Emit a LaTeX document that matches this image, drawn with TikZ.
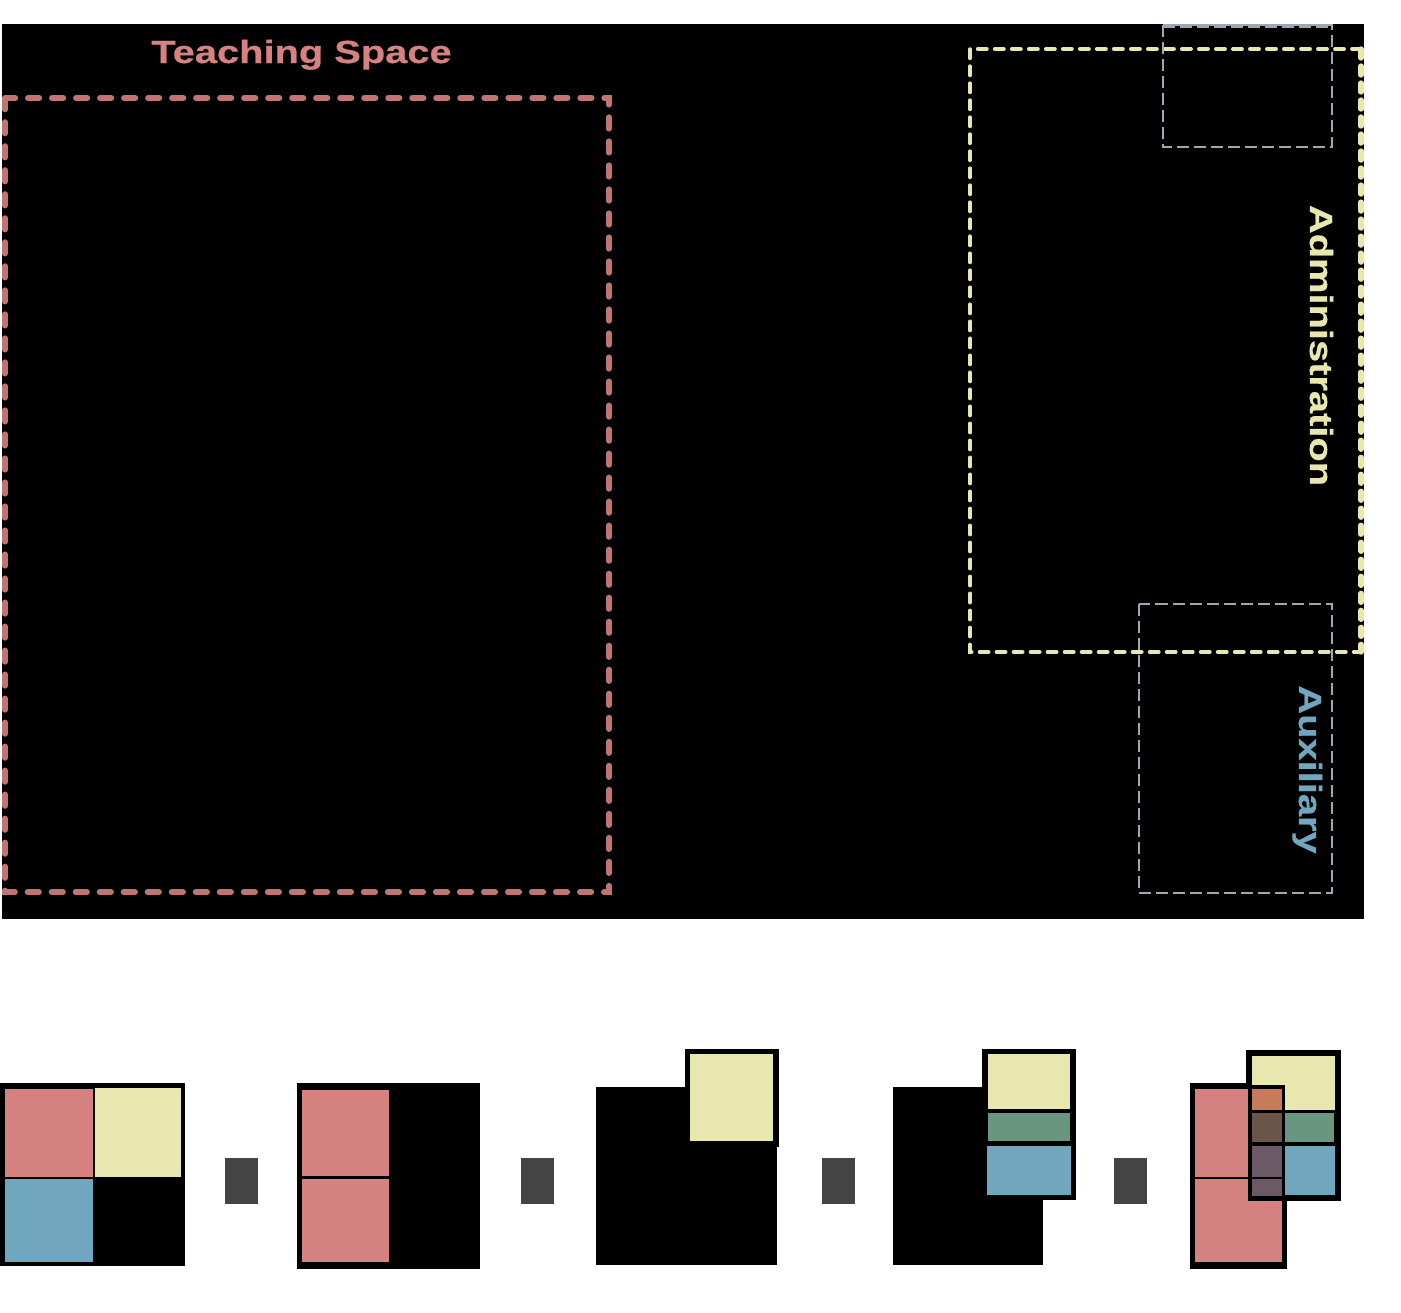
\documentclass[tikz,border=0pt]{standalone}
\usepackage{fontspec}
\newfontfamily\labelfont[FakeStretch=1.245,BoldFeatures={FakeBold=0.6}]{Liberation Sans}
\definecolor{teachred}{HTML}{D58280}
\definecolor{adminyellow}{HTML}{E8E7B0}
\definecolor{auxblue}{HTML}{70A7BF}
\definecolor{auxgray}{HTML}{9BAAB2}
\definecolor{mixgreen}{HTML}{689680}
\definecolor{mixorange}{HTML}{C87B5A}
\definecolor{mixbrown}{HTML}{6A5548}
\definecolor{mixmauve}{HTML}{6B5A66}
\definecolor{stubgray}{HTML}{444444}
\begin{document}
\begin{tikzpicture}[
    x=0.01cm,
    y=-0.01cm,
    label/.style={
        inner sep=0pt,
        anchor=base,
        font=\labelfont\bfseries\fontsize{9.1}{11}\selectfont
    },
    teachzone/.style={draw=teachred!90!black, line width=1.6pt, line cap=round, dash pattern=on 0.115cm off 0.125cm},
    adminzone/.style={draw=adminyellow, line width=1.1pt, line cap=round, dash pattern=on 0.09cm off 0.08cm},
    auxzone/.style={draw=auxgray, line width=0.6pt, dash pattern=on 0.12cm off 0.05cm},
    frame/.style={fill=black},
    stub/.style={fill=stubgray}
]
    \fill[white] (0,0) rectangle (1401,1312);
    \useasboundingbox (0,0) rectangle (1401,1312);

    % floor plan
    \fill[frame] (2,24) rectangle (1364,919);
    \draw[teachzone] (5,98) rectangle (609,892);
    \draw[adminzone] (1361,49) -| (970,652) -- (1361,652);
    \draw[adminzone, line width=1.5pt] (1361,49) -- (1361,652);
    \draw[auxzone] (1163,25) rectangle (1332,147);
    \draw[auxzone, line width=1pt] (1163,26) -- (1332,26);
    \draw[auxzone] (1139,604) rectangle (1332,893);
    \node[label, text=teachred] (teaching) at (301.5,63) {Teaching Space};
    \node[label, text=adminyellow, rotate=-90] (admin) at (1310,345.5) {Administration};
    \node[label, text=auxblue, rotate=-90] (aux) at (1299,769.5) {Auxiliary};

    % all zones
    \fill[frame] (0,1083) rectangle (185,1266);
    \fill[teachred] (5,1089) rectangle (93,1177);
    \fill[adminyellow] (95,1088) rectangle (181,1177);
    \fill[auxblue] (5,1179) rectangle (93,1262);
    \fill[stub] (225,1158) rectangle (258,1204);

    % teaching only
    \fill[frame] (297,1083) rectangle (480,1269);
    \fill[teachred] (302,1090) rectangle (388.5,1176);
    \fill[teachred] (302,1179) rectangle (388.5,1262);
    \fill[stub] (521,1158) rectangle (554,1204);

    % administration
    \fill[frame] (596,1087) rectangle (777,1265);
    \fill[frame] (685,1049) rectangle (779,1147);
    \fill[adminyellow] (690,1054) rectangle (773,1141);
    \fill[stub] (822,1158) rectangle (855,1204);

    % administration and auxiliary
    \fill[frame] (893,1087) rectangle (1043,1265);
    \fill[frame] (982,1049) rectangle (1076,1200);
    \fill[adminyellow] (988,1054) rectangle (1070,1109);
    \fill[mixgreen] (988,1113) rectangle (1070,1141);
    \fill[auxblue] (987,1146) rectangle (1071,1195);
    \fill[stub] (1114,1158) rectangle (1147,1204);

    % overlap
    \fill[frame] (1190,1083) rectangle (1287,1269);
    \fill[frame] (1246,1050) rectangle (1341,1201);
    \fill[teachred] (1195,1089) rectangle (1248,1177);
    \fill[teachred] (1195,1179) rectangle (1248,1262);
    \fill[teachred] (1248,1201) rectangle (1282,1262);
    \fill[adminyellow] (1252,1056) rectangle (1335,1110);
    \fill[frame] (1248,1085) rectangle (1285,1110);
    \fill[mixorange] (1252,1089) rectangle (1282,1110);
    \fill[mixbrown] (1252,1113) rectangle (1282,1142);
    \fill[mixmauve] (1252,1146) rectangle (1282,1177);
    \fill[mixmauve] (1252,1179) rectangle (1282,1196);
    \fill[mixgreen] (1285,1113) rectangle (1334,1142);
    \fill[auxblue] (1285,1146) rectangle (1335,1195);
\end{tikzpicture}
\end{document}
